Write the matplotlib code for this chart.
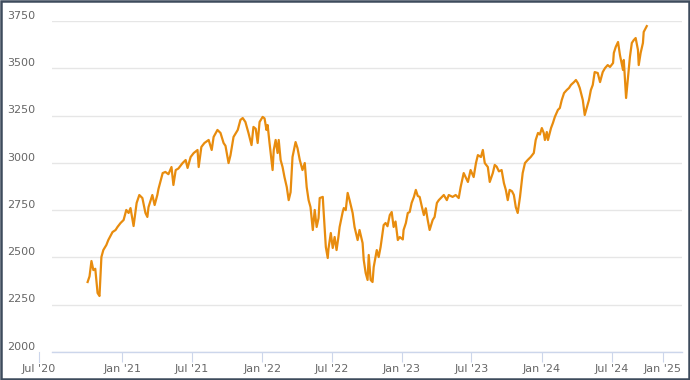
import matplotlib
matplotlib.use("Agg")
import matplotlib.pyplot as plt
import matplotlib.dates as mdates
from matplotlib.transforms import ScaledTranslation, blended_transform_factory
from matplotlib.patches import Rectangle
import pandas as pd

# ---------------- data ----------------
dates = [
    "2020-10-02", "2020-10-07", "2020-10-12", "2020-10-17", "2020-10-22", "2020-10-28",
    "2020-11-02", "2020-11-07", "2020-11-12", "2020-11-20", "2020-11-25", "2020-12-06",
    "2020-12-14", "2020-12-19", "2020-12-27", "2021-01-04", "2021-01-11", "2021-01-17",
    "2021-01-22", "2021-01-30", "2021-02-07", "2021-02-14", "2021-02-22", "2021-03-02",
    "2021-03-07", "2021-03-10", "2021-03-20", "2021-03-26", "2021-04-02", "2021-04-05",
    "2021-04-16", "2021-04-23", "2021-05-01", "2021-05-09", "2021-05-14", "2021-05-20",
    "2021-05-27", "2021-06-07", "2021-06-15", "2021-06-20", "2021-06-28", "2021-07-06",
    "2021-07-16", "2021-07-19", "2021-07-26", "2021-08-03", "2021-08-14", "2021-08-22",
    "2021-08-27", "2021-09-06", "2021-09-14", "2021-09-22", "2021-09-27", "2021-10-05",
    "2021-10-10", "2021-10-18", "2021-10-29", "2021-11-05", "2021-11-11", "2021-11-18",
    "2021-11-26", "2021-12-04", "2021-12-09", "2021-12-15", "2021-12-20", "2021-12-25",
    "2022-01-02", "2022-01-07", "2022-01-12", "2022-01-15", "2022-01-20", "2022-01-28",
    "2022-01-31", "2022-02-05", "2022-02-10", "2022-02-13", "2022-02-18", "2022-02-23",
    "2022-02-28", "2022-03-06", "2022-03-11", "2022-03-16", "2022-03-21", "2022-03-24",
    "2022-03-29", "2022-04-03", "2022-04-09", "2022-04-16", "2022-04-22", "2022-04-27",
    "2022-05-02", "2022-05-07", "2022-05-13", "2022-05-18", "2022-05-23", "2022-05-28",
    "2022-05-31", "2022-06-08", "2022-06-10", "2022-06-16", "2022-06-21", "2022-06-23",
    "2022-06-29", "2022-07-04", "2022-07-09", "2022-07-14", "2022-07-19", "2022-07-22",
    "2022-07-30", "2022-08-02", "2022-08-07", "2022-08-12", "2022-08-17", "2022-08-25",
    "2022-08-30", "2022-09-07", "2022-09-12", "2022-09-20", "2022-09-23", "2022-09-28",
    "2022-10-03", "2022-10-06", "2022-10-11", "2022-10-16", "2022-10-19", "2022-10-27",
    "2022-11-01", "2022-11-06", "2022-11-14", "2022-11-19", "2022-11-24", "2022-11-30",
    "2022-12-05", "2022-12-10", "2022-12-15", "2022-12-21", "2022-12-26", "2023-01-03",
    "2023-01-05", "2023-01-11", "2023-01-16", "2023-01-21", "2023-01-26", "2023-02-01",
    "2023-02-06", "2023-02-11", "2023-02-16", "2023-02-22", "2023-02-27", "2023-03-04",
    "2023-03-09", "2023-03-14", "2023-03-22", "2023-03-27", "2023-04-02", "2023-04-07",
    "2023-04-15", "2023-04-20", "2023-04-28", "2023-05-03", "2023-05-13", "2023-05-21",
    "2023-05-29", "2023-06-03", "2023-06-11", "2023-06-22", "2023-06-29", "2023-07-07",
    "2023-07-13", "2023-07-18", "2023-07-26", "2023-07-31", "2023-08-05", "2023-08-13",
    "2023-08-18", "2023-08-26", "2023-08-31", "2023-09-05", "2023-09-11", "2023-09-18",
    "2023-09-24", "2023-09-29", "2023-10-04", "2023-10-09", "2023-10-15", "2023-10-20",
    "2023-10-25", "2023-10-30", "2023-11-05", "2023-11-12", "2023-11-18", "2023-11-25",
    "2023-12-03", "2023-12-11", "2023-12-16", "2023-12-22", "2023-12-27", "2024-01-01",
    "2024-01-06", "2024-01-09", "2024-01-14", "2024-01-17", "2024-01-25", "2024-01-30",
    "2024-02-04", "2024-02-12", "2024-02-17", "2024-02-22", "2024-02-28", "2024-03-06",
    "2024-03-12", "2024-03-17", "2024-03-25", "2024-03-30", "2024-04-04", "2024-04-09",
    "2024-04-17", "2024-04-22", "2024-04-28", "2024-05-03", "2024-05-08", "2024-05-13",
    "2024-05-18", "2024-05-26", "2024-06-01", "2024-06-08", "2024-06-14", "2024-06-21",
    "2024-06-27", "2024-07-05", "2024-07-07", "2024-07-12", "2024-07-18", "2024-07-23",
    "2024-07-31", "2024-08-02", "2024-08-08", "2024-08-13", "2024-08-18", "2024-08-23",
    "2024-08-28", "2024-09-02", "2024-09-08", "2024-09-10", "2024-09-15", "2024-09-21",
    "2024-09-23", "2024-10-01",
]
values = [
    2370, 2400, 2481, 2433, 2440, 2312,
    2296, 2502, 2539, 2566, 2592, 2634,
    2645, 2661, 2682, 2698, 2751, 2735,
    2761, 2666, 2788, 2830, 2814, 2735,
    2714, 2766, 2830, 2777, 2830, 2862,
    2946, 2952, 2940, 2978, 2883, 2962,
    2970, 2999, 3015, 2973, 3031, 3052,
    3068, 2978, 3084, 3105, 3121, 3068,
    3137, 3174, 3158, 3105, 3090, 2999,
    3040, 3137, 3174, 3227, 3237, 3216,
    3158, 3094, 3190, 3180, 3105, 3216,
    3243, 3235, 3174, 3200, 3105, 2962,
    3068, 3121, 3052, 3121, 3015, 2978,
    2925, 2872, 2803, 2845, 3031, 3060,
    3110, 3078, 3015, 2962, 2999, 2872,
    2803, 2766, 2645, 2751, 2661, 2708,
    2814, 2820, 2751, 2555, 2497, 2547,
    2629, 2550, 2608, 2539, 2610, 2661,
    2740, 2761, 2750, 2841, 2803, 2735,
    2661, 2592, 2645, 2576, 2486, 2418,
    2381, 2513, 2381, 2370, 2449, 2539,
    2502, 2555, 2671, 2682, 2665, 2724,
    2740, 2661, 2690, 2592, 2608, 2595,
    2645, 2682, 2735, 2740, 2788, 2820,
    2857, 2825, 2820, 2766, 2724, 2760,
    2698, 2645, 2698, 2714, 2788, 2803,
    2820, 2830, 2803, 2830, 2820, 2830,
    2814, 2872, 2946, 2899, 2962, 2925,
    2999, 3041, 3031, 3068, 2999, 2978,
    2899, 2946, 2989, 2980, 2955, 2962,
    2893, 2857, 2803, 2857, 2850, 2830,
    2766, 2735, 2820, 2946, 2999, 3015,
    3031, 3052, 3121, 3158, 3150, 3184,
    3158, 3121, 3163, 3121, 3184, 3211,
    3243, 3280, 3290, 3332, 3369, 3385,
    3396, 3412, 3427, 3438, 3422, 3396,
    3332, 3253, 3295, 3332, 3385, 3412,
    3480, 3475, 3427, 3480, 3501, 3517,
    3507, 3528, 3581, 3613, 3639, 3570,
    3491, 3544, 3343, 3454, 3560, 3634,
    3649, 3660, 3597, 3517, 3581, 3634,
    3692, 3723,
]

x_tick_dates = ["2021-01-01", "2021-07-01", "2022-01-01", "2022-07-01",
                "2023-01-01", "2023-07-01", "2024-01-01", "2024-07-01", "2024-11-12"]
x_tick_labels = ["Jan '21", "Jul '21", "Jan '22", "Jul '22",
                 "Jan '23", "Jul '23", "Jan '24", "Jul '24", "Jan '25"]
# first tick sits left of the plot area in the reference
x_edge_tick_date = "2020-05-27"
x_edge_tick_label = "Jul '20"
x_range = ["2020-07-01", "2025-01-01"]

y_ticks = [2000, 2250, 2500, 2750, 3000, 3250, 3500, 3750]

# ---------------- styling ----------------
LINE = "#E88C0E"
GRID = "#e6e6e6"
AXIS = "#ccd6eb"
TEXT = "#666666"
FRAME = "#3d4b5c"

plt.rcParams["font.family"] = ["DejaVu Sans"]

fig = plt.figure(figsize=(6.9, 3.8), dpi=100)
ax = fig.add_axes([52 / 690, 28 / 380, 630 / 690, 331 / 380])

x = pd.to_datetime(dates)
ax.plot(x, values, color=LINE, lw=1.6, solid_joinstyle="round", zorder=3)

ax.set_xlim(pd.to_datetime(x_range[0]), pd.to_datetime(x_range[1]))
ax.set_ylim(y_ticks[0], y_ticks[-1])

ax.set_yticks(y_ticks)
ax.set_yticklabels([str(v) for v in y_ticks])
ax.yaxis.grid(True, color=GRID, lw=1.0)
ax.set_axisbelow(True)
ax.tick_params(axis="y", length=0, pad=12.2, labelsize=8, labelcolor=TEXT)
for lab in ax.get_yticklabels():
    lab.set_transform(lab.get_transform() + ScaledTranslation(0, 4.5 / 72, fig.dpi_scale_trans))

ax.set_xticks(pd.to_datetime(x_tick_dates))
ax.set_xticklabels(x_tick_labels)
ax.tick_params(axis="x", length=7.2, width=0.8, color=AXIS, pad=1.5,
               labelsize=8, labelcolor=TEXT)

for s in ["top", "right", "left"]:
    ax.spines[s].set_visible(False)
ax.spines["bottom"].set_color(AXIS)
ax.spines["bottom"].set_linewidth(1.0)
ax.spines["bottom"].set_zorder(4)

# edge tick outside the plot area
trans = blended_transform_factory(ax.transData, ax.transAxes)
xe = mdates.date2num(pd.to_datetime(x_edge_tick_date))
h_px = 331.0
ax.plot([xe, xe], [0, -10 / h_px], transform=trans, color=AXIS, lw=0.8, clip_on=False)
ax.text(xe, -12 / h_px, x_edge_tick_label, transform=trans, ha="center", va="top",
        fontsize=8, color=TEXT, clip_on=False)

# outer frame
fig.patches.append(Rectangle((0.0015, 0.003), 0.997, 0.994, transform=fig.transFigure,
                             fill=False, edgecolor=FRAME, lw=1.8))

fig.savefig("out.png", dpi=100)
